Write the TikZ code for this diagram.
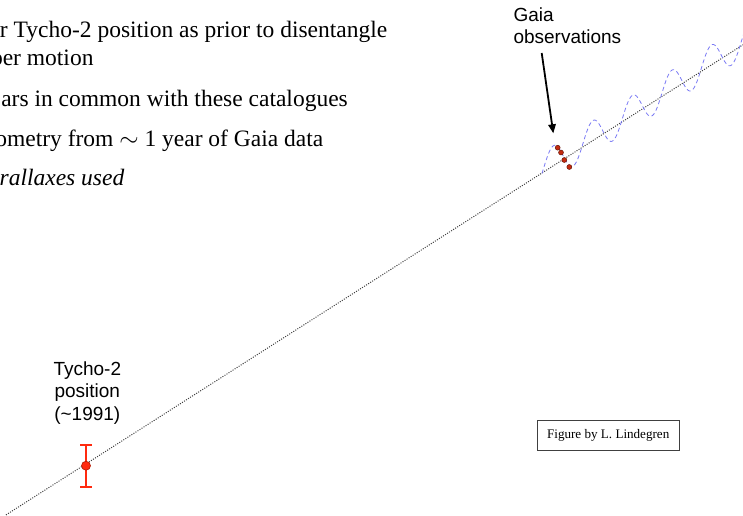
\documentclass[tikz,border=0pt]{standalone}
\usepackage{fontspec}
\setmainfont{Liberation Serif}
\newfontfamily\helv{Liberation Sans}
\usetikzlibrary{arrows.meta}
\definecolor{wavecol}{HTML}{7A7AF5}
\definecolor{barred}{HTML}{FF2A0F}
\definecolor{bardark}{HTML}{B01800}
\definecolor{obsred}{HTML}{C42A10}
\definecolor{obsdark}{HTML}{5A1000}
\tikzset{
  bullettext/.style={anchor=base east, inner sep=0pt, font=\fontsize{23.5}{28}\selectfont},
  sanslabel/.style={inner sep=0pt, font=\helv\fontsize{19}{22.5}\selectfont},
  track/.style={draw=black!75, line width=1pt, dash pattern=on 1pt off 1.4pt},
  wave/.style={draw=wavecol, line width=0.8pt, dash pattern=on 4pt off 3pt},
  obsdot/.style={circle, fill=obsred, draw=obsdark, line width=0.4pt, inner sep=0pt, minimum size=5pt},
  errbar/.style={draw=barred, line width=2.4pt},
  creditbox/.style={draw=black!75, line width=0.8pt, minimum width=141.7pt, minimum height=30pt, inner sep=0pt, font=\fontsize{13.1}{15}\selectfont}
}
\begin{document}
\begin{tikzpicture}[x=1pt,y=-1pt]
\useasboundingbox (0,0) rectangle (743,515);
\clip (0,0) rectangle (743,515);
\fill[white] (0,0) rectangle (743,515);

% bullet text (cropped at left edge)
\node[bullettext] (t1) at (387.5,37.7) {r Tycho-2 position as prior to disentangle};
\node[bullettext] (t2) at (93.7,65) {per motion};
\node[bullettext] (t3) at (348,106) {ars in common with these catalogues};
\node[bullettext] (t4) at (323.5,146) {ometry from $\sim$ 1 year of Gaia data};
\node[bullettext] (t5) at (124.5,185) {\itshape rallaxes used};

% proper-motion track
\coordinate (trackstart) at (6,514.9);
\coordinate (trackend) at (750,40.3);
\draw[track] (trackstart) -- (trackend);

% parallax wave
\draw[wave] plot[domain=542:750, samples=260, smooth]
  (\x, {359.3-0.638*(\x-250)-3.5-16.5*sin(9.1139*(\x-543.5))});

% Gaia observations
\node[obsdot] (o1) at (557.7,147.7) {};
\node[obsdot] (o2) at (561,152.5) {};
\node[obsdot] (o3) at (564.3,160) {};
\node[obsdot] (o4) at (569.3,167) {};

\node[sanslabel, align=left, anchor=north west] (gaia) at (513.3,7.5) {Gaia\\observations};
\coordinate (arrowstart) at (541.7,53);
\coordinate (arrowtip) at (553.3,133.3);
\draw[line width=1.8pt, -{Triangle[width=7.5pt,length=9pt]}] (arrowstart) -- (arrowtip);

% Tycho-2 position with error bar
\node[sanslabel, align=center, anchor=north] (tycho) at (87.3,361.5) {Tycho-2\\position\\(\textasciitilde 1991)};
\coordinate (bartop) at (86,445);
\coordinate (barbot) at (86,486.7);
\draw[errbar] (bartop) -- (barbot);
\draw[errbar] ([xshift=-5.8pt]bartop) -- ([xshift=5.8pt]bartop);
\draw[errbar] ([xshift=-5.8pt]barbot) -- ([xshift=5.8pt]barbot);
\node[circle, fill=barred, draw=bardark, line width=0.6pt, inner sep=0pt, minimum size=9pt] (tychopos) at (86,465.7) {};

% credit box
\node[creditbox] (credit) at (608.2,435) {Figure by L. Lindegren};
\end{tikzpicture}
\end{document}
